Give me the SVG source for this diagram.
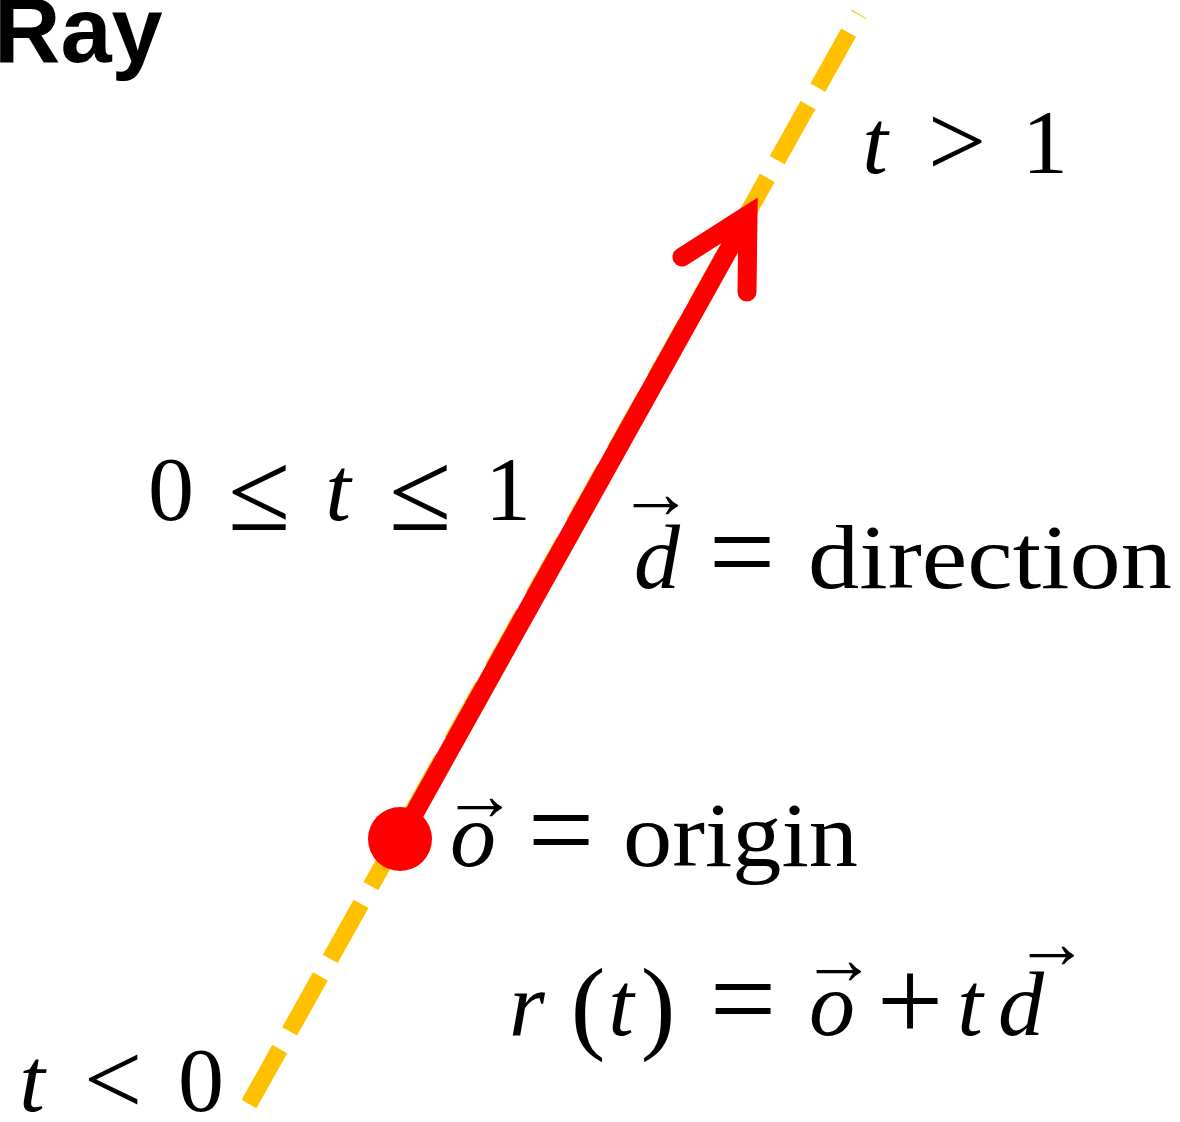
<svg xmlns="http://www.w3.org/2000/svg" width="1180" height="1122" viewBox="0 0 1180 1122">
<style>
.m{font-family:"Liberation Serif","Times New Roman",serif;font-size:92px;fill:#000;text-anchor:middle}
.i{font-style:italic}
.rel{font-size:104px}
.eq{font-size:118px}
.le{font-size:114px}
.arw{font-size:75px}
.w{text-anchor:start}
.title{font-family:"Liberation Sans",Arial,sans-serif;font-weight:bold;font-size:92px;fill:#000}
</style>
<rect width="1180" height="1122" fill="#fff"/>
<g id="connectors">
<line id="ray-line" x1="249" y1="1104" x2="859" y2="14" stroke="#FFC000" stroke-width="17" stroke-dasharray="63 20.2"/>
<line id="direction-shaft" x1="400" y1="839" x2="748" y2="215" stroke="#FF0000" stroke-width="19"/>
<polyline id="direction-head" points="682,257 748,215 747,292" fill="none" stroke="#FF0000" stroke-width="19" stroke-linecap="round" stroke-linejoin="miter" stroke-miterlimit="10"/>
</g>
<g id="origin-dot"><circle cx="400" cy="839" r="32" fill="#FF0000"/></g>
<g id="title"><text class="title" x="-6" y="62">Ray</text></g>
<g id="label-t-gt-1">
<text class="m i" x="875" y="173">t</text>
<text class="m rel" x="957" y="176">&gt;</text>
<text class="m" x="1045" y="173">1</text>
</g>
<g id="label-interval">
<text class="m" x="171" y="520">0</text>
<text class="m le" x="259" y="530">≤</text>
<text class="m i" x="338" y="520">t</text>
<text class="m le" x="420" y="530">≤</text>
<text class="m" x="508" y="520">1</text>
</g>
<g id="label-direction">
<text class="m i" x="657" y="588">d</text>
<text class="m arw" x="656" y="518">→</text>
<text class="m eq" x="742" y="592">=</text>
<text class="m w" x="808" y="588" textLength="364" lengthAdjust="spacingAndGlyphs">direction</text>
</g>
<g id="label-origin">
<text class="m i" x="473" y="866">o</text>
<text class="m arw" x="480" y="820">→</text>
<text class="m eq" x="561" y="870">=</text>
<text class="m w" x="623" y="866" textLength="235" lengthAdjust="spacingAndGlyphs">origin</text>
</g>
<g id="label-equation">
<text class="m i" x="527" y="1035">r</text>
<text class="m rel" x="588" y="1040">(</text>
<text class="m i" x="621" y="1035">t</text>
<text class="m rel" x="658" y="1040">)</text>
<text class="m eq" x="743" y="1039">=</text>
<text class="m i" x="832" y="1035">o</text>
<text class="m arw" x="839" y="984">→</text>
<text class="m eq" x="910" y="1041">+</text>
<text class="m i" x="970" y="1035">t</text>
<text class="m i" x="1021" y="1035">d</text>
<text class="m arw" x="1052" y="968">→</text>
</g>
<g id="label-t-lt-0">
<text class="m i" x="32" y="1111">t</text>
<text class="m rel" x="113" y="1114">&lt;</text>
<text class="m" x="201" y="1111">0</text>
</g>
</svg>
